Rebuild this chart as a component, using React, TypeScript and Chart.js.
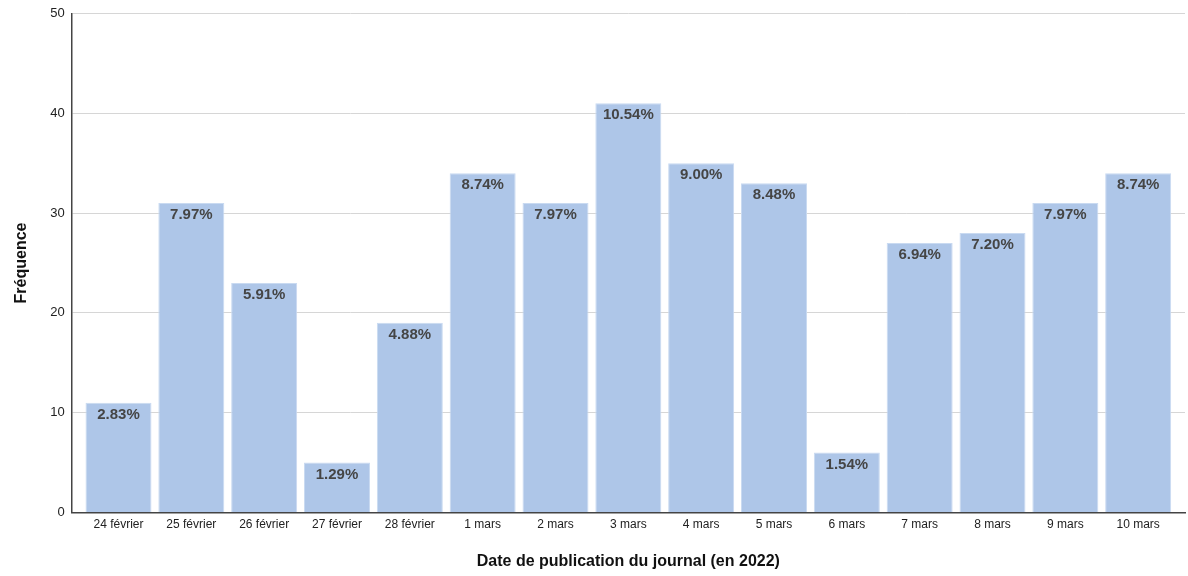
import React, { useEffect, useRef } from "react";
import { Chart, registerables } from "chart.js";

Chart.register(...registerables);

const categories = [
  "24 février", "25 février", "26 février", "27 février", "28 février",
  "1 mars", "2 mars", "3 mars", "4 mars", "5 mars", "6 mars", "7 mars",
  "8 mars", "9 mars", "10 mars",
];
const frequencies = [11, 31, 23, 5, 19, 34, 31, 41, 35, 33, 6, 27, 28, 31, 34];
const percentLabels = [
  "2.83%", "7.97%", "5.91%", "1.29%", "4.88%", "8.74%", "7.97%", "10.54%",
  "9.00%", "8.48%", "1.54%", "6.94%", "7.20%", "7.97%", "8.74%",
];
const yTicks = [0, 10, 20, 30, 40, 50];

const FONT = "Arial, 'Liberation Sans', sans-serif";

const labelPlugin = {
  id: "barLabels",
  afterDatasetsDraw(chart: any) {
    const ctx = chart.ctx;
    const meta = chart.getDatasetMeta(0);
    ctx.save();
    ctx.font = "bold 15px " + FONT;
    ctx.fillStyle = "#454545";
    ctx.textAlign = "center";
    ctx.textBaseline = "middle";
    meta.data.forEach((bar: any, i: number) => {
      ctx.fillText(percentLabels[i], bar.x, bar.y + 12);
    });
    ctx.restore();
  },
};

export default function App() {
  const ref = useRef<HTMLCanvasElement>(null);
  useEffect(() => {
    document.body.style.margin = "0";
    const chart = new Chart(ref.current!, {
      type: "bar",
      data: {
        datasets: [
          {
            data: frequencies.map((v, i) => ({ x: i, y: v })),
            backgroundColor: "#aec6e8",
            borderColor: "#c9daf1",
            borderWidth: 1,
            borderSkipped: "bottom",
            barPercentage: 0.906,
            categoryPercentage: 1,
          },
        ],
      },
      options: {
        animation: false,
        responsive: false,
        maintainAspectRatio: false,
        layout: { padding: { top: 0, right: 3, left: 12, bottom: 5 } },
        plugins: { legend: { display: false }, tooltip: { enabled: false } },
        scales: {
          x: {
            type: "linear",
            offset: false,
            min: -0.643,
            max: categories.length - 1 + 0.643,
            afterBuildTicks: (axis: any) => {
              axis.ticks = categories.map((_, i) => ({ value: i }));
            },
            grid: { display: false, drawTicks: false, offset: false },
            border: { color: "#444", width: 1.5 },
            ticks: {
              color: "#222",
              font: { size: 12, family: FONT },
              padding: 5,
              maxRotation: 0,
              autoSkip: false,
              callback: (v: any) => categories[Math.round(Number(v))] ?? "",
            },
            title: {
              display: true,
              text: "Date de publication du journal (en 2022)",
              color: "#111",
              font: { size: 16, weight: "bold", family: FONT },
              padding: { top: 15, bottom: 0 },
            },
          },
          y: {
            min: 0,
            max: 50,
            afterBuildTicks: (axis: any) => {
              axis.ticks = yTicks.map((v) => ({ value: v }));
            },
            grid: { color: "#d6d6d6", drawTicks: false },
            border: { color: "#444", width: 1.5 },
            ticks: {
              color: "#222",
              font: { size: 13, family: FONT, lineHeight: 1 },
              padding: 7,
            },
            title: {
              display: true,
              text: "Fréquence",
              color: "#111",
              font: { size: 16, weight: "bold", family: FONT },
              padding: { top: 0, bottom: 12 },
            },
          },
        },
      },
      plugins: [labelPlugin],
    });
    return () => chart.destroy();
  }, []);
  return (
    <div style={{ width: 1188, height: 576 }}>
      <canvas ref={ref} width={1188} height={576} style={{ display: "block" }} />
    </div>
  );
}
